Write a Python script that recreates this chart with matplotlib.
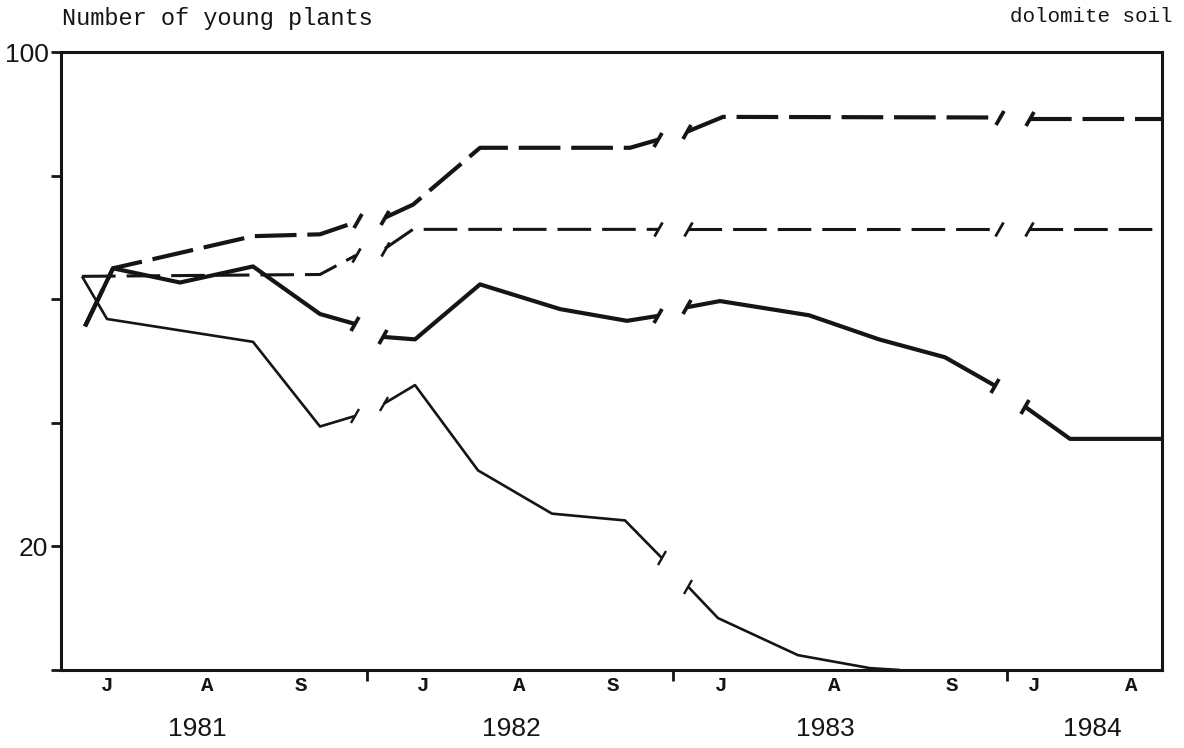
import numpy as np
import matplotlib.pyplot as plt
from matplotlib.markers import MarkerStyle
from matplotlib.transforms import Affine2D

# x positions in chart units, one list per season (year); the gaps are the winter breaks
thick_solid_x = [[2.7, 5.5, 12.2, 19.5, 26.2, 29.7],
                 [32.5, 35.7, 42.2, 50.2, 56.9, 60.0],
                 [62.9, 66.2, 75.1, 82.1, 88.7, 93.7],
                 [96.7, 101.2, 110.4]]
thick_solid_y = [[55.6, 65.0, 62.7, 65.3, 57.6, 56.0],
                 [53.9, 53.5, 62.4, 58.4, 56.5, 57.3],
                 [58.7, 59.7, 57.4, 53.5, 50.6, 46.0],
                 [42.6, 37.4, 37.4]]

thin_solid_x = [[2.4, 4.9, 19.5, 26.2, 29.7],
                [32.6, 35.7, 42.0, 49.4, 56.7, 60.4],
                [63.0, 66.0, 74.0, 81.2, 84.2]]
thin_solid_y = [[63.7, 56.8, 53.1, 39.4, 41.1],
                [43.1, 46.1, 32.3, 25.3, 24.2, 18.1],
                [13.5, 8.4, 2.4, 0.3, 0.0]]

thick_dash_x = [[2.7, 5.5, 19.5, 26.2, 30.0],
                [32.7, 35.5, 42.2, 57.2, 60.0],
                [62.9, 66.5, 94.2],
                [97.2, 110.4]]
thick_dash_y = [[55.6, 65.0, 70.2, 70.5, 72.6],
                [73.2, 75.3, 84.5, 84.5, 85.8],
                [87.1, 89.5, 89.4],
                [89.2, 89.2]]

thin_dash_x = [[2.4, 26.2, 29.8],
               [32.7, 35.5, 60.0],
               [63.0, 94.1],
               [97.1, 110.4]]
thin_dash_y = [[63.7, 64.0, 67.1],
               [68.2, 71.3, 71.3],
               [71.3, 71.3],
               [71.3, 71.3]]

month_pos = [4.9, 14.9, 24.3, 36.5, 46.1, 55.5, 66.3, 77.6, 89.4, 97.6, 107.3]
month_lab = ["J", "A", "S", "J", "A", "S", "J", "A", "S", "J", "A"]
year_pos = [13.9, 45.3, 76.7, 103.4]
year_lab = ["1981", "1982", "1983", "1984"]
year_breaks = [30.9, 61.5, 94.9]

INK = "#151515"

fig = plt.figure(figsize=(11.84, 7.48), dpi=100)
ax = fig.add_axes([61 / 1184, 1 - 670 / 748, (1162 - 61) / 1184, (670 - 52) / 748])
ax.set_xlim(0.3, 110.4)
ax.set_ylim(0, 100)

# the hand drawn break bars all lean the same way, like a "/"
bar = MarkerStyle("|", transform=Affine2D().rotate_deg(-28))


def draw_series(xs, ys, lw, dashes=None):
    nseg = len(xs)
    for i, (sx, sy) in enumerate(zip(xs, ys)):
        ln, = ax.plot(sx, sy, color=INK, lw=lw, solid_capstyle="butt",
                      dash_capstyle="butt", solid_joinstyle="round")
        if dashes is not None:
            ln.set_dashes(dashes)
        ends = []
        if i > 0:
            ends.append((sx[0], sy[0]))
        if i < nseg - 1:
            ends.append((sx[-1], sy[-1]))
        for x0, y0 in ends:
            ax.plot([x0], [y0], marker=bar, ms=11, mew=lw * 0.9, color=INK,
                    linestyle="none")


draw_series(thick_dash_x, thick_dash_y, 3.0, dashes=(10, 2.6))
draw_series(thin_dash_x, thin_dash_y, 2.2, dashes=(11, 3.6))
draw_series(thin_solid_x, thin_solid_y, 1.9)
draw_series(thick_solid_x, thick_solid_y, 3.0)

for s in ax.spines.values():
    s.set_linewidth(2.2)
    s.set_color(INK)

ax.set_yticks([0, 20, 40, 60, 80, 100])
ax.set_yticklabels(["", "20", "", "", "", "100"], fontsize=19,
                   family="Liberation Sans")
ax.tick_params(axis="y", direction="out", length=7, width=2, pad=2, colors=INK)

ax.set_xticks(month_pos)
ax.set_xticklabels(month_lab, fontsize=15, family="Liberation Mono",
                   fontweight="bold")
ax.tick_params(axis="x", which="major", length=0, pad=4, colors=INK)
ax.set_xticks(year_breaks, minor=True)
ax.tick_params(axis="x", which="minor", direction="out", length=8, width=2,
               colors=INK)

for xp, lab in zip(year_pos, year_lab):
    ax.text(xp, -0.096, lab, transform=ax.get_xaxis_transform(), ha="center",
            va="center", fontsize=19, family="Liberation Sans", color=INK)

fig.text(62 / 1184, 1 - 18 / 748, "Number of young plants", ha="left",
         va="center", fontsize=17, family="Liberation Mono", color=INK)
fig.text(1172 / 1184, 1 - 16 / 748, "dolomite soil", ha="right",
         va="center", fontsize=15, family="Liberation Mono", color=INK)

fig.savefig("out.png", dpi=100, facecolor="white")
